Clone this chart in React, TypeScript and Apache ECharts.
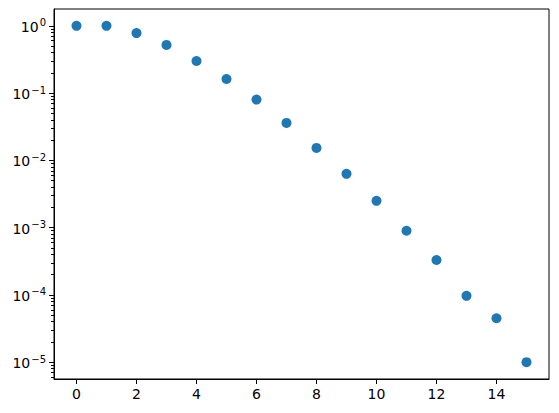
import React, { useEffect, useRef } from "react";
import * as echarts from "echarts";

const xValues = [0, 1, 2, 3, 4, 5, 6, 7, 8, 9, 10, 11, 12, 13, 14, 15];
const yValues = [
  1.0, 1.0, 0.78, 0.52, 0.3, 0.162, 0.08, 0.036, 0.0153, 0.0063, 0.0025,
  0.0009, 0.00033, 0.000097, 0.000045, 0.00001,
];
const xTicks = [0, 2, 4, 6, 8, 10, 12, 14];
const yMajorTicks = [1e-5, 1e-4, 1e-3, 1e-2, 1e-1, 1];
const yExponents = ["−5", "−4", "−3", "−2", "−1", "0"];

const X_MIN = -0.75;
const X_MAX = 15.75;
const Y_MIN = Math.pow(10, -5.25);
const Y_MAX = Math.pow(10, 0.25);

function minorTicks(): number[] {
  const out: number[] = [];
  for (let d = -6; d <= 0; d++) {
    for (let k = 2; k <= 9; k++) {
      const v = k * Math.pow(10, d);
      if (v >= Y_MIN && v <= Y_MAX) out.push(v);
    }
  }
  return out;
}

export default function App() {
  const ref = useRef<HTMLDivElement>(null);
  useEffect(() => {
    document.body.style.margin = "0";
    if (!ref.current) return;
    const chart = echarts.init(ref.current, null, { renderer: "svg" });
    const font = "DejaVu Sans";
    chart.setOption({
      animation: false,
      backgroundColor: "#ffffff",
      grid: {
        left: 54,
        right: 10,
        top: 9,
        bottom: 34,
        show: true,
        borderColor: "#000",
        borderWidth: 1,
        backgroundColor: "transparent",
      },
      xAxis: {
        type: "value",
        min: X_MIN,
        max: X_MAX,
        axisLine: { show: true, onZero: false, lineStyle: { color: "#000", width: 1 } },
        axisTick: {
          show: true,
          length: 5,
          lineStyle: { color: "#000", width: 1 },
          customValues: xTicks,
        },
        axisLabel: {
          customValues: xTicks,
          color: "#000",
          fontFamily: font,
          fontSize: 14,
          margin: 8,
        },
        splitLine: { show: false },
      },
      yAxis: [
        {
          type: "log",
          logBase: 10,
          min: Y_MIN,
          max: Y_MAX,
          axisLine: { show: true, onZero: false, lineStyle: { color: "#000", width: 1 } },
          axisTick: {
            show: true,
            length: 5,
            lineStyle: { color: "#000", width: 1 },
            customValues: yMajorTicks,
          },
          axisLabel: {
            customValues: yMajorTicks,
            color: "#000",
            fontFamily: font,
            margin: 8,
            formatter: (v: number) => {
              const idx = yMajorTicks.findIndex(
                (t) => Math.abs(Math.log10(t) - Math.log10(v)) < 1e-6
              );
              const e = idx >= 0 ? yExponents[idx] : String(Math.round(Math.log10(v)));
              return "{b|10}{s|" + e + "}";
            },
            rich: {
              b: { fontSize: 14, fontFamily: font, color: "#000", verticalAlign: "bottom" },
              s: {
                fontSize: 10,
                fontFamily: font,
                color: "#000",
                verticalAlign: "bottom",
                padding: [0, 0, 6, 1],
              },
            },
          },
          splitLine: { show: false },
          minorTick: { show: false },
        },
        {
          type: "log",
          logBase: 10,
          min: Y_MIN,
          max: Y_MAX,
          position: "left",
          axisLine: { show: false, onZero: false },
          axisTick: {
            show: true,
            length: 3,
            lineStyle: { color: "#000", width: 1 },
            customValues: minorTicks(),
          },
          axisLabel: { show: false },
          splitLine: { show: false },
        },
      ],
      series: [
        {
          type: "scatter",
          yAxisIndex: 0,
          symbol: "circle",
          symbolSize: 10,
          itemStyle: { color: "#1f77b4", opacity: 1 },
          data: xValues.map((x, i) => [x, yValues[i]]),
        },
      ],
    });
    return () => chart.dispose();
  }, []);
  return <div ref={ref} style={{ width: 559, height: 413 }} />;
}
